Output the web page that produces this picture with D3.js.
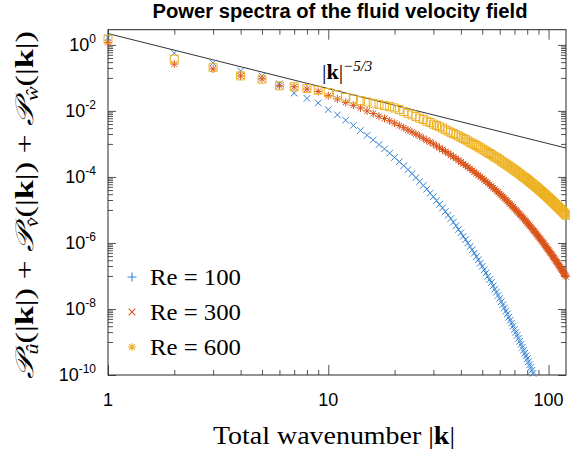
<!DOCTYPE html>
<html><head><meta charset="utf-8">
<script src="https://cdn.jsdelivr.net/npm/d3@7"></script>
<style>body{margin:0;background:#fff}</style>
</head><body><svg id="c" width="570" height="452"></svg>
<script>
// ---- data (log10 of spectral power, one value per integer wavenumber k = 1, 2, ...) ----
const logP100 = [0.22,-0.25,-0.55,-0.79,-0.94,-1.18,-1.46,-1.62,-1.76,-1.96,
 -2.12,-2.28,-2.44,-2.59,-2.74,-2.88,-3.02,-3.15,-3.28,-3.41,
 -3.54,-3.66,-3.78,-3.90,-4.02,-4.14,-4.26,-4.37,-4.49,-4.60,
 -4.72,-4.83,-4.94,-5.05,-5.16,-5.26,-5.37,-5.48,-5.59,-5.69,
 -5.80,-5.90,-6.00,-6.11,-6.21,-6.31,-6.41,-6.51,-6.61,-6.71,
 -6.81,-6.91,-7.01,-7.11,-7.20,-7.30,-7.40,-7.49,-7.59,-7.68,
 -7.78,-7.87,-7.97,-8.06,-8.15,-8.25,-8.34,-8.43,-8.52,-8.62,
 -8.71,-8.80,-8.89,-8.98,-9.07,-9.16,-9.25,-9.34,-9.42,-9.51,
 -9.60,-9.69,-9.77,-9.86,-9.95];
const logP300 = [0.07,-0.58,-0.73,-0.94,-1.03,-1.24,-1.27,-1.34,-1.41,-1.54,
 -1.64,-1.74,-1.83,-1.91,-2.00,-2.08,-2.16,-2.23,-2.30,-2.37,
 -2.44,-2.51,-2.58,-2.64,-2.70,-2.76,-2.83,-2.89,-2.94,-3.00,
 -3.06,-3.12,-3.17,-3.23,-3.28,-3.34,-3.39,-3.44,-3.49,-3.55,
 -3.60,-3.65,-3.70,-3.75,-3.80,-3.85,-3.90,-3.95,-3.99,-4.04,
 -4.09,-4.14,-4.18,-4.23,-4.28,-4.33,-4.37,-4.42,-4.46,-4.51,
 -4.55,-4.60,-4.64,-4.69,-4.73,-4.78,-4.82,-4.87,-4.91,-4.96,
 -5.00,-5.04,-5.09,-5.13,-5.17,-5.22,-5.26,-5.30,-5.34,-5.39,
 -5.43,-5.47,-5.51,-5.56,-5.60,-5.64,-5.68,-5.72,-5.77,-5.81,
 -5.85,-5.89,-5.93,-5.97,-6.01,-6.06,-6.10,-6.14,-6.18,-6.22,
 -6.26,-6.30,-6.34,-6.38,-6.42,-6.46,-6.50,-6.54,-6.58,-6.62,
 -6.66,-6.70,-6.74,-6.78,-6.82,-6.86,-6.90,-6.94,-6.98,-7.02];
const logP600 = [0.17,-0.43,-0.69,-0.94,-1.04,-1.24,-1.27,-1.32,-1.37,-1.44,
 -1.51,-1.59,-1.64,-1.69,-1.73,-1.77,-1.80,-1.84,-1.87,-1.91,
 -1.96,-2.02,-2.07,-2.12,-2.17,-2.22,-2.26,-2.31,-2.35,-2.40,
 -2.44,-2.48,-2.52,-2.57,-2.61,-2.65,-2.69,-2.72,-2.76,-2.80,
 -2.84,-2.87,-2.91,-2.95,-2.98,-3.02,-3.05,-3.09,-3.12,-3.16,
 -3.19,-3.22,-3.26,-3.29,-3.32,-3.36,-3.39,-3.42,-3.45,-3.48,
 -3.52,-3.55,-3.58,-3.61,-3.64,-3.67,-3.70,-3.73,-3.76,-3.79,
 -3.82,-3.85,-3.88,-3.91,-3.94,-3.97,-4.00,-4.02,-4.05,-4.08,
 -4.11,-4.14,-4.17,-4.20,-4.22,-4.25,-4.28,-4.31,-4.33,-4.36,
 -4.39,-4.42,-4.44,-4.47,-4.50,-4.53,-4.55,-4.58,-4.61,-4.63,
 -4.66,-4.69,-4.71,-4.74,-4.77,-4.79,-4.82,-4.85,-4.87,-4.90,
 -4.92,-4.95,-4.98,-5.00,-5.03,-5.05,-5.08,-5.10,-5.13,-5.16];
const refK = [1, 120];          // |k|^(-5/3) reference line end points
const refP = [2.2, 7.5e-4];
const xTickValues = [1, 10, 100];
const xTickLabels = ["1", "10", "100"];
const yTickExponents = [0, -2, -4, -6, -8, -10];
const legendLabels = ["Re = 100", "Re = 300", "Re = 600"];

// ---- drawing ----
const svg = d3.select("#c");
const L = 108, R = 566, T = 29.7, B = 375;
const x = d3.scaleLog().domain([1, 120]).range([L, R]);
const y = d3.scaleLog().domain([1e-10, Math.pow(10, 0.46)]).range([B, T]);
const axisColor = "#262626";
const serif = "Liberation Serif, Times New Roman, serif";
const sans = "Liberation Sans, Arial, sans-serif";

const xMinor = [];
[1, 10].forEach(d => { for (let m = 2; m <= 9; m++) xMinor.push(m * d); });
const yMinor = [];
yTickExponents.forEach(e => { if (e - 1 >= -10) for (let m = 1; m <= 9; m++) yMinor.push(m * Math.pow(10, e - 1)); });
const yMajor = yTickExponents.map(e => Math.pow(10, e));

function styleAxis(g) {
  g.select(".domain").remove();
  g.selectAll("line").attr("stroke", axisColor).attr("stroke-width", 0.8);
  g.selectAll("text").remove();
}
const gx = svg.append("g");
gx.append("g").attr("transform", `translate(0,${B})`).call(d3.axisBottom(x).tickValues(xTickValues).tickSize(-10)).call(styleAxis);
gx.append("g").attr("transform", `translate(0,${B})`).call(d3.axisBottom(x).tickValues(xMinor).tickSize(-5)).call(styleAxis);
gx.append("g").attr("transform", `translate(0,${T})`).call(d3.axisTop(x).tickValues(xTickValues).tickSize(-10)).call(styleAxis);
gx.append("g").attr("transform", `translate(0,${T})`).call(d3.axisTop(x).tickValues(xMinor).tickSize(-5)).call(styleAxis);
gx.append("g").attr("transform", `translate(${L},0)`).call(d3.axisLeft(y).tickValues(yMajor).tickSize(-8)).call(styleAxis);
gx.append("g").attr("transform", `translate(${L},0)`).call(d3.axisLeft(y).tickValues(yMinor).tickSize(-5)).call(styleAxis);
gx.append("g").attr("transform", `translate(${R},0)`).call(d3.axisRight(y).tickValues(yMajor).tickSize(-8)).call(styleAxis);
gx.append("g").attr("transform", `translate(${R},0)`).call(d3.axisRight(y).tickValues(yMinor).tickSize(-5)).call(styleAxis);

svg.append("rect").attr("x", L).attr("y", T).attr("width", R - L).attr("height", B - T)
  .attr("fill", "none").attr("stroke", axisColor).attr("stroke-width", 1);

// tick labels
svg.append("g").selectAll("text").data(xTickValues).join("text")
  .attr("x", d => x(d)).attr("y", 406).attr("text-anchor", "middle")
  .attr("font-family", sans).attr("font-size", 18).attr("fill", "#000")
  .text((d, i) => xTickLabels[i]);
const yl = svg.append("g").selectAll("text").data(yTickExponents).join("text")
  .attr("x", 96).attr("y", d => y(Math.pow(10, d)) + 6).attr("text-anchor", "end")
  .attr("font-family", sans).attr("font-size", 18).attr("fill", "#000");
yl.append("tspan").text("10");
yl.append("tspan").attr("font-size", 12).attr("dy", -8).text(d => d === 0 ? "0" : "-" + (-d));

// reference line
svg.append("line").attr("x1", x(refK[0])).attr("y1", y(refP[0])).attr("x2", x(refK[1])).attr("y2", y(refP[1]))
  .attr("stroke", "#333").attr("stroke-width", 1);

const shapes = {
  x: "M-3.3,-3.3L3.3,3.3M-3.3,3.3L3.3,-3.3",
  plus: "M-4.5,0L4.5,0M0,-4.5L0,4.5",
  star: "M-4,0L4,0M0,-4L0,4M-2.9,-2.9L2.9,2.9M-2.9,2.9L2.9,-2.9",
  square: "M-4,-4H4V4H-4Z"
};
const series = [
  {vals: logP100, color: "#3584d4", shape: "x", legend: "plus"},
  {vals: logP300, color: "#D95319", shape: "star", legend: "x"},
  {vals: logP600, color: "#EDB120", shape: "square", legend: "star"}
];
series.forEach(s => {
  svg.append("g").selectAll("path").data(s.vals.map((v, i) => ({k: i + 1, p: Math.pow(10, v)}))).join("path")
    .attr("transform", d => `translate(${x(d.k)},${y(d.p)})`)
    .attr("d", shapes[s.shape]).attr("fill", "none").attr("stroke", s.color).attr("stroke-width", 1);
});

// annotation |k|^{-5/3}
const ann = svg.append("text").attr("x", 322).attr("y", 79)
  .attr("font-family", serif).attr("font-size", 22).attr("fill", "#000");
ann.append("tspan").text("|");
ann.append("tspan").attr("font-weight", "bold").text("k");
ann.append("tspan").text("|");
ann.append("tspan").attr("font-size", 15).attr("dy", -8).attr("font-style", "italic").text("\u22125/3");

// legend
const lg = svg.append("g");
series.forEach((s, i) => {
  const cy = 277 + i * 35;
  lg.append("path").attr("transform", `translate(132,${cy})`).attr("d", shapes[s.legend])
    .attr("fill", "none").attr("stroke", s.color).attr("stroke-width", 1.1);
  lg.append("text").attr("x", 150).attr("y", cy + 8).attr("font-family", serif)
    .attr("font-size", 24).attr("textLength", 91).attr("lengthAdjust", "spacingAndGlyphs").attr("fill", "#000").text(legendLabels[i]);
});

// title
svg.append("text").attr("x", 340).attr("y", 18).attr("text-anchor", "middle")
  .attr("font-family", sans).attr("font-weight", "bold").attr("font-size", 20)
  .attr("textLength", 375).attr("lengthAdjust", "spacingAndGlyphs")
  .attr("fill", "#000").text("Power spectra of the fluid velocity field");

// x label
const xl = svg.append("text").attr("x", 213).attr("y", 444)
  .attr("font-family", serif).attr("font-size", 25).attr("fill", "#000")
  .attr("textLength", 242).attr("lengthAdjust", "spacingAndGlyphs");
xl.append("tspan").text("Total wavenumber |");
xl.append("tspan").attr("font-weight", "bold").text("k");
xl.append("tspan").text("|");

// y label
const ylab = svg.append("text").attr("transform", "translate(33,379) rotate(-90)")
  .attr("x", 0).attr("y", 0)
  .attr("font-family", serif).attr("font-size", 25).attr("fill", "#000")
  .attr("textLength", 348).attr("lengthAdjust", "spacingAndGlyphs");
[["\u{1D4AB}", "\u00fb"], ["\u{1D4AB}", "v\u0302"], ["\u{1D4AB}", "\u0175"]].forEach((p, i) => {
  ylab.append("tspan").attr("font-family", "DejaVu Serif, DejaVu Sans, serif").attr("font-style", "italic").text(p[0]);
  ylab.append("tspan").attr("font-size", 16).attr("dy", 5).attr("font-style", "italic").text(p[1]);
  ylab.append("tspan").attr("dy", -5).text("(|");
  ylab.append("tspan").attr("font-weight", "bold").text("k");
  ylab.append("tspan").text(i < 2 ? "|) + " : "|)");
});
</script>
</body></html>
